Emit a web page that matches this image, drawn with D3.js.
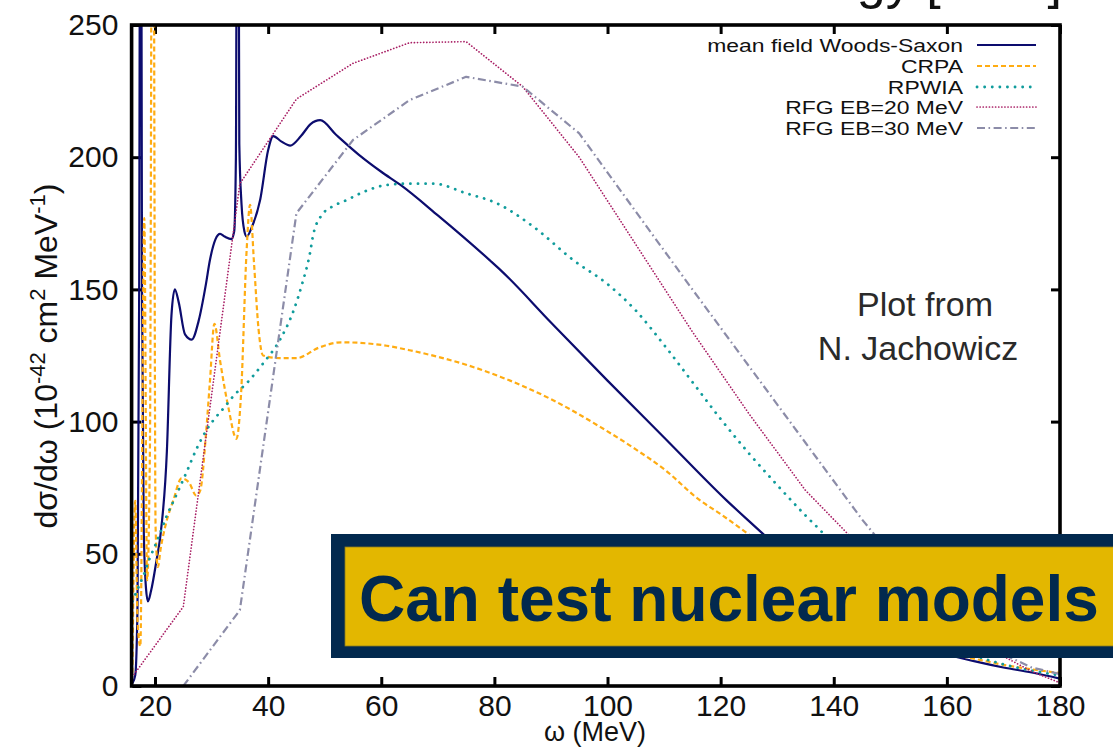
<!DOCTYPE html>
<html>
<head>
<meta charset="utf-8">
<script src="https://cdn.jsdelivr.net/npm/d3@7"></script>
<style>
  html, body { margin: 0; padding: 0; background: #ffffff; }
  svg { display: block; }
  text { font-family: "Liberation Sans", Arial, Helvetica, sans-serif; }
</style>
</head>
<body>
<svg id="chart" width="1113" height="748"></svg>
<script>
// Energy-transfer axis (MeV) and cross-section axis ticks
const omegaTicks = [20, 40, 60, 80, 100, 120, 140, 160, 180];
const sigmaTicks = [0, 50, 100, 150, 200, 250];

// [omega (MeV), dsigma/domega (1e-42 cm^2/MeV)]
const woodsSaxon = [
  [16, 1], [16.5, 4], [16.9, 30], [17.2, 150], [17.45, 420], [17.7, 150], [18.0, 60],
  [18.4, 37], [18.75, 32], [19.3, 36], [20.3, 48], [20.9, 56], [22.1, 89], [22.9, 140],
  [23.5, 150], [24.2, 145], [25.3, 133], [26.5, 131], [27.7, 138], [29, 152], [29.7, 161],
  [30.7, 169], [31.5, 171], [32.3, 170], [33.5, 169], [34.0, 172], [34.3, 200], [34.6, 430],
  [34.9, 205], [35.3, 182], [35.8, 172], [36.2, 170], [37.2, 174], [38.6, 184], [40.0, 202.7],
  [40.9, 208], [42.3, 206], [43.9, 204.4], [45.8, 208], [47.5, 212.5], [49.2, 214], [52, 208.5],
  [56, 201], [60, 194.5], [63.4, 189.5], [70, 178], [79.2, 161], [81, 157.5], [90, 137.5],
  [100, 115.5], [110, 94], [121, 70.3], [127.3, 57.9], [130, 52.5], [135, 43], [140, 34.5],
  [145, 27], [150, 21], [155, 16], [160, 12], [165, 9.3], [170, 7], [175, 5.1], [180, 2.8]
];
const crpa = [
  [16, 5], [16.5, 70], [16.9, 25], [17.4, 15], [18.1, 177], [18.6, 40], [19.1, 90], [19.6, 420],
  [20.1, 60], [20.5, 45], [21, 52], [22, 62], [23.2, 70], [24.7, 78.5], [26, 77], [27.3, 72],
  [28, 74], [29, 95], [29.7, 115], [30.5, 137], [31.5, 123], [33, 105], [34.4, 93.5], [35.2, 110],
  [36.2, 165], [36.8, 182], [37.5, 160], [38.3, 135], [39.1, 125], [42, 124], [45, 124],
  [49, 128], [53, 130], [60, 129], [65, 127], [70, 124.5], [75, 121.5], [81, 117], [85, 113.5],
  [90, 108.5], [98.7, 98], [105, 89.5], [110, 82], [116.3, 70.3], [120, 65], [124.6, 57.9],
  [130, 49], [135, 41], [140, 33.5], [145, 27], [150, 21], [155, 16], [160, 12.5], [166, 9.8],
  [170, 8], [175, 6.3], [180, 4.9]
];
const rpwia = [
  [16, 32], [17, 37], [18, 42], [19, 48], [20, 53], [20.9, 57.8], [22, 64], [23.5, 71],
  [25.6, 81], [27.3, 89.5], [29.1, 96.8], [30.5, 101], [32.1, 105], [34, 110], [36.2, 114.5],
  [39.1, 122], [42.1, 131], [44.5, 142], [46, 152], [47.4, 163.7], [48, 171], [49.75, 178.8],
  [51.5, 181.5], [53.9, 183.8], [57, 187], [61, 189.5], [65, 190], [69.2, 190], [75.1, 186.3],
  [80.4, 182.6], [86.9, 173.7], [94, 161], [100, 152], [105, 142], [110, 129], [115, 115],
  [120, 101], [125, 88], [130, 76], [135, 64.5], [138, 58], [140, 53], [145, 42], [150, 32],
  [155, 23.5], [160, 16.5], [165, 11.5], [170, 8.2], [175, 5.8], [180, 4]
];
const rfg20 = [
  [16, 3.5], [25, 30], [35, 190], [45, 222], [55, 235.5], [65, 243.3], [75, 243.7], [85, 226.7],
  [95, 200], [105, 167], [115, 134], [125, 103], [135, 74], [145, 52], [155, 33], [165, 17],
  [175, 5.5], [180, 1.2]
];
const rfg30 = [
  [25, 0], [35, 28.7], [45, 178.8], [55, 206.5], [65, 221.6], [75, 230.4], [85, 226.7],
  [95, 209], [105, 179.4], [115, 150], [125, 121], [135, 92], [145, 63], [155, 37], [165, 17],
  [175, 7], [180, 4.5]
];

const seriesNames = ["mean field Woods-Saxon", "CRPA", "RPWIA", "RFG EB=20 MeV", "RFG EB=30 MeV"];
const seriesData = [woodsSaxon, crpa, rpwia, rfg20, rfg30];

// Line styles per model (gnuplot-like)
const styles = [
  { color: "#0c0c6e", width: 2.2, dash: null, cap: "butt", smooth: true },
  { color: "#ffac12", width: 2.2, dash: "5,3", cap: "butt", smooth: true },
  { color: "#109c9c", width: 2.8, dash: "0.1,7.5", cap: "round", smooth: true },
  { color: "#a81e64", width: 1.7, dash: "0.1,3", cap: "round", smooth: false },
  { color: "#8c8ca8", width: 2.2, dash: "8,3.5,1.6,3.5", cap: "butt", smooth: false }
];

const svg = d3.select("#chart");
const W = 1113, H = 748;
const plotLeft = 132.4, plotRight = 1060, plotTop = 25, plotBottom = 686;

const x = d3.scaleLinear().domain([16, 180]).range([plotLeft, plotRight]);
const y = d3.scaleLinear().domain([0, 250]).range([plotBottom, plotTop]);

// Slide title, sitting above the visible area (only its descenders show)
svg.append("text")
  .attr("x", 1062).attr("y", -2)
  .attr("text-anchor", "end")
  .attr("font-size", 52)
  .attr("fill", "#111")
  .text("Neutrino energy [MeV]");

svg.append("clipPath").attr("id", "plotclip")
  .append("rect").attr("x", plotLeft).attr("y", plotTop)
  .attr("width", plotRight - plotLeft).attr("height", plotBottom - plotTop);

// Axes with inward ticks, mirrored on top and right
const tickFont = 30;
const gx = svg.append("g").attr("transform", `translate(0,${plotBottom})`)
  .call(d3.axisBottom(x).tickValues(omegaTicks).tickSize(-9).tickPadding(9).tickFormat(d3.format("d")));
const gy = svg.append("g").attr("transform", `translate(${plotLeft},0)`)
  .call(d3.axisLeft(y).tickValues(sigmaTicks).tickSize(-9).tickPadding(14).tickFormat(d3.format("d")));
const gt = svg.append("g").attr("transform", `translate(0,${plotTop})`)
  .call(d3.axisTop(x).tickValues(omegaTicks).tickSize(-9).tickFormat(""));
const gr = svg.append("g").attr("transform", `translate(${plotRight},0)`)
  .call(d3.axisRight(y).tickValues(sigmaTicks).tickSize(-9).tickFormat(""));
[gx, gy, gt, gr].forEach(g => {
  g.select(".domain").remove();
  g.selectAll(".tick line").attr("stroke", "#000").attr("stroke-width", 3);
  g.selectAll(".tick text").attr("font-size", tickFont).attr("fill", "#111")
    .style("font-family", "'Liberation Sans', Arial, Helvetica, sans-serif");
});

// Curves
const plot = svg.append("g").attr("clip-path", "url(#plotclip)");
seriesData.forEach((data, i) => {
  const s = styles[i];
  const line = d3.line().x(d => x(d[0])).y(d => y(d[1]))
    .curve(s.smooth ? d3.curveMonotoneX : d3.curveLinear);
  plot.append("path")
    .datum(data)
    .attr("d", line)
    .attr("fill", "none")
    .attr("stroke", s.color)
    .attr("stroke-width", s.width)
    .attr("stroke-linecap", s.cap)
    .attr("stroke-linejoin", "round")
    .attr("stroke-dasharray", s.dash);
});

// Frame
svg.append("rect")
  .attr("x", plotLeft - 0.8).attr("y", plotTop)
  .attr("width", plotRight - plotLeft + 0.8).attr("height", plotBottom - plotTop)
  .attr("fill", "none").attr("stroke", "#000").attr("stroke-width", 3.6);

// Legend (text drawn slightly wide, like the original terminal font)
const legendRowY = [45, 66, 87, 107, 128];
const legend = svg.append("g");
seriesNames.forEach((name, i) => {
  const s = styles[i];
  legend.append("text")
    .attr("transform", `translate(963,${legendRowY[i] + 6.5}) scale(1.24,1)`)
    .attr("text-anchor", "end")
    .attr("font-size", 18.5)
    .attr("fill", "#111")
    .text(name);
  legend.append("line")
    .attr("x1", 977).attr("x2", 1036)
    .attr("y1", legendRowY[i]).attr("y2", legendRowY[i])
    .attr("stroke", s.color)
    .attr("stroke-width", s.width)
    .attr("stroke-linecap", s.cap)
    .attr("stroke-dasharray", s.dash);
});

// Axis titles
svg.append("text")
  .attr("x", 595).attr("y", 741)
  .attr("text-anchor", "middle")
  .attr("font-size", 27)
  .attr("fill", "#111")
  .text("ω (MeV)");

const yt = svg.append("text")
  .attr("transform", "translate(57,356) rotate(-90)")
  .attr("text-anchor", "middle")
  .attr("font-size", 32)
  .attr("fill", "#111");
yt.append("tspan").text("dσ/dω (10");
yt.append("tspan").attr("dy", -12).attr("font-size", 22).text("-42");
yt.append("tspan").attr("dy", 12).text(" cm");
yt.append("tspan").attr("dy", -12).attr("font-size", 22).text("2");
yt.append("tspan").attr("dy", 12).text(" MeV");
yt.append("tspan").attr("dy", -12).attr("font-size", 22).text("-1");
yt.append("tspan").attr("dy", 12).text(")");

// Credit note
const credit = svg.append("g").attr("fill", "#2a2a2a")
  .style("font-family", "Roboto, 'Open Sans', Lato, 'Liberation Sans', sans-serif")
  .attr("font-weight", 300)
  .attr("font-size", 34)
  .attr("text-anchor", "middle");
credit.append("text").attr("x", 925).attr("y", 316).text("Plot from");
credit.append("text").attr("x", 918).attr("y", 360).text("N. Jachowicz");

// Banner
const banner = svg.append("g");
banner.append("rect")
  .attr("x", 331).attr("y", 534).attr("width", W - 331 + 20).attr("height", 124)
  .attr("fill", "#02294e");
banner.append("rect")
  .attr("x", 345).attr("y", 547).attr("width", W - 345 + 20).attr("height", 99)
  .attr("fill", "#e3b700").attr("stroke", "#8a7a20").attr("stroke-width", 0.8);
banner.append("text")
  .attr("x", 359).attr("y", 621)
  .attr("font-size", 64)
  .attr("font-weight", "bold")
  .attr("fill", "#02294e")
  .text("Can test nuclear models");
</script>
</body>
</html>
